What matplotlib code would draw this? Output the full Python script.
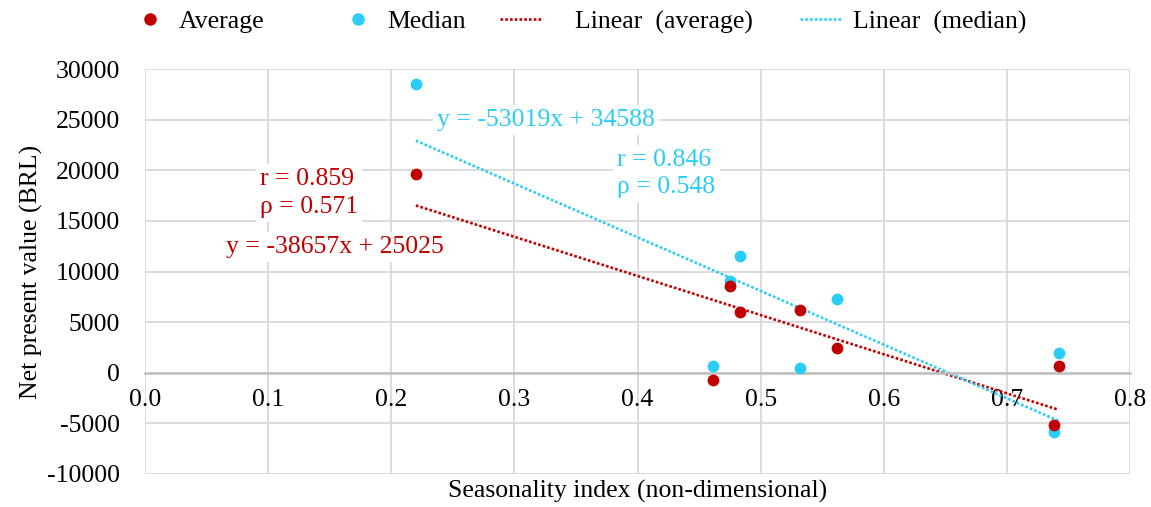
import numpy as np
import matplotlib
matplotlib.use("Agg")
import matplotlib.pyplot as plt
from matplotlib.lines import Line2D

# values
seasonality = [0.220, 0.461, 0.475, 0.483, 0.532, 0.562, 0.738, 0.742]
npv_average = [19670, -760, 8590, 5990, 6220, 2400, -5130, 690]
npv_median = [28550, 690, 9110, 11520, 460, 7300, -5850, 1970]

# trendline coefficients as printed on the chart
fit_average = (-38657, 25025)
fit_median = (-53019, 34588)
stats_average = (0.859, 0.571)
stats_median = (0.846, 0.548)

legend_labels = ["Average", "Median", "Linear  (average)", "Linear  (median)"]

RED = "#C00000"
CYAN = "#29CDF6"

plt.rcParams["font.family"] = ["Liberation Serif", "DejaVu Serif"]
plt.rcParams["font.size"] = 18.5
plt.rcParams["axes.unicode_minus"] = False


def trend(coef, xs):
    x = np.array([min(xs), max(xs)])
    return x, coef[0] * x + coef[1]


def main():
    W, H = 1151, 507
    fig = plt.figure(figsize=(W / 100, H / 100), dpi=100)
    ax = fig.add_axes([145 / W, 1 - 474 / H, 985 / W, 405 / H])

    ax.set_xlim(0, 0.8)
    ax.set_ylim(-10000, 30000)
    xt = np.arange(0, 0.81, 0.1)
    ax.set_xticks(xt)
    ax.set_xticklabels([f"{t:.1f}" for t in xt])
    ax.set_yticks(np.arange(-10000, 30001, 5000))
    ax.grid(True, color="#d9d9d9", lw=1.3)
    ax.set_axisbelow(True)
    for s in ["left", "right", "top"]:
        ax.spines[s].set_visible(False)
    ax.spines["bottom"].set_position(("data", 0))
    ax.spines["bottom"].set_color("#bfbfbf")
    ax.spines["bottom"].set_linewidth(1.8)
    ax.tick_params(axis="both", length=0)
    ax.tick_params(axis="y", pad=18)
    ax.tick_params(axis="x", pad=12)

    dot = (0, (1, 0.8))
    xa, ya = trend(fit_average, seasonality)
    xm, ym = trend(fit_median, seasonality)
    ax.plot(xa, ya, color=RED, lw=1.9, linestyle=dot, zorder=2)
    ax.plot(xm, ym, color=CYAN, lw=1.9, linestyle=dot, zorder=2)

    ax.scatter(seasonality, npv_median, s=72, color=CYAN, zorder=3, linewidths=0)
    ax.scatter(seasonality, npv_average, s=72, color=RED, zorder=3, linewidths=0)

    box = dict(facecolor="white", edgecolor="none", pad=3)
    ax.text(0.0935, 17750, f"r = {stats_average[0]}\nρ = {stats_average[1]}",
            color=RED, ha="left", va="center", linespacing=1.3, bbox=box, zorder=4)
    ax.text(0.1545, 12450, f"y = {fit_average[0]}x + {fit_average[1]}",
            color=RED, ha="center", va="center", bbox=box, zorder=4)
    ax.text(0.2374, 24970, f"y = {fit_median[0]}x + {fit_median[1]}",
            color=CYAN, ha="left", va="center", bbox=box, zorder=4)
    ax.text(0.3837, 19700, f"r = {stats_median[0]}\nρ = {stats_median[1]}",
            color=CYAN, ha="left", va="center", linespacing=1.3, bbox=box, zorder=4)

    ax.set_xlabel("Seasonality index (non-dimensional)")
    ax.xaxis.set_label_coords(0.5, -0.015)
    ax.set_ylabel("Net present value (BRL)")
    ax.yaxis.set_label_coords(-0.104, 0.5)

    # legend entries placed one by one, like the spreadsheet legend
    handles = [
        Line2D([], [], marker="o", color=RED, linestyle="none", markersize=8),
        Line2D([], [], marker="o", color=CYAN, linestyle="none", markersize=8),
        Line2D([], [], color=RED, lw=1.9, linestyle=dot),
        Line2D([], [], color=CYAN, lw=1.9, linestyle=dot),
    ]
    starts = [129, 337, 500, 800]
    pads = [0.35, 0.35, 1.3, 0.45]
    for h, lab, x0, p in zip(handles, legend_labels, starts, pads):
        fig.legend([h], [lab], loc="center left", bbox_to_anchor=(x0 / W, 1 - 22 / H),
                   frameon=False, handlelength=1.6, handletextpad=p,
                   borderpad=0, borderaxespad=0)

    fig.savefig("out.png", dpi=100)


if __name__ == "__main__":
    main()
